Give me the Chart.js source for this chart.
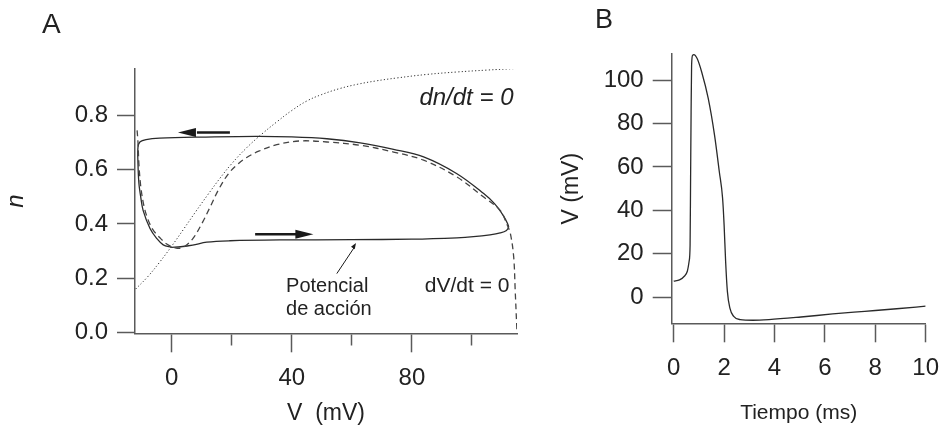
<!DOCTYPE html>
<html>
<head>
<meta charset="utf-8">
<script src="https://cdn.jsdelivr.net/npm/chart.js@4.4.1/dist/chart.umd.min.js"></script>
<style>
  html, body { margin: 0; padding: 0; background: #fff; }
  #wrap { position: relative; width: 951px; height: 425px; }
  #phase { position: absolute; left: 0; top: 0; }
  #spike { position: absolute; left: 540px; top: 0; }
</style>
</head>
<body>
<div id="wrap">
  <canvas id="phase" width="540" height="425"></canvas>
  <canvas id="spike" width="411" height="425"></canvas>
</div>
<script>
// A: phase plane, action potential trajectory (V in mV, n gating variable)
const trajV = [0, 3, 7, 11.7, 19.4, 36, 60, 80, 95, 100.5, 106, 109.4, 111.5, 112.2, 111.9, 110.5, 107.5, 103.9, 95, 83.9, 73.9, 62.8, 51.7, 40, 28, 8.3, -4, -8.5, -10.5, -11.2, -11.2, -10.9, -10.3, -9.5, -7.2, -5, -2.8, 0];
const trajN = [0.314, 0.316, 0.322, 0.333, 0.338, 0.341, 0.342, 0.344, 0.349, 0.353, 0.36, 0.367, 0.376, 0.389, 0.40, 0.43, 0.475, 0.512, 0.585, 0.647, 0.675, 0.699, 0.714, 0.721, 0.723, 0.72, 0.716, 0.711, 0.703, 0.684, 0.62, 0.55, 0.50, 0.45, 0.383, 0.347, 0.323, 0.314];

// dV/dt = 0 nullcline
const vNullV = [-11.5, -11.2, -10.9, -10.3, -9.3, -8, -6.3, -4, -1.5, 1.5, 4, 7, 10, 12.8, 15.5, 18.9, 22.2, 25, 29, 35, 42.8, 51.7, 62.8, 73.9, 83.9, 95, 103.9, 109.4, 111.6, 112.8, 113.9, 114.4, 115];
const vNullN = [0.745, 0.70, 0.62, 0.54, 0.47, 0.42, 0.38, 0.35, 0.325, 0.311, 0.315, 0.345, 0.40, 0.462, 0.524, 0.585, 0.622, 0.645, 0.668, 0.692, 0.706, 0.702, 0.69, 0.665, 0.635, 0.573, 0.499, 0.45, 0.40, 0.364, 0.278, 0.155, 0.0];

// dn/dt = 0 nullcline
const nNullV = [-12, -8, -4, 0, 4, 8, 12, 16, 20, 25, 30, 35, 40, 45, 50, 56, 62, 68, 75, 85, 95, 105, 115];
const nNullN = [0.160, 0.205, 0.259, 0.318, 0.381, 0.445, 0.507, 0.567, 0.622, 0.681, 0.731, 0.776, 0.818, 0.853, 0.877, 0.899, 0.915, 0.927, 0.938, 0.951, 0.960, 0.967, 0.973];

const phaseTicksV = [0, 20, 40, 60, 80, 100];
const phaseTicksN = [0, 0.2, 0.4, 0.6, 0.8];

// B: membrane potential against time
const timeMs = [0, 0.23, 0.42, 0.54, 0.61, 0.65, 0.67, 0.69, 0.71, 0.75, 0.80, 0.93, 1.11, 1.37, 1.62, 1.81, 1.94, 2.00, 2.06, 2.13, 2.23, 2.38, 2.64, 3.14, 3.78, 5.05, 6.31, 7.58, 8.85, 10];
const voltage = [7.3, 7.9, 9.6, 11.9, 16.4, 24, 54.8, 85.4, 107, 111.5, 111.8, 110, 103.8, 91.6, 74.7, 57.8, 45.6, 33.3, 16.5, 2.6, -5.1, -8.9, -10.4, -10.7, -10.4, -9.2, -7.8, -6.6, -5.4, -4.2];

const timeTicks = [0, 2, 4, 6, 8, 10];
const voltTicks = [0, 20, 40, 60, 80, 100];

Chart.defaults.font.family = "'Liberation Sans', Arial, sans-serif";
Chart.defaults.color = '#222';

const pts = (xs, ys) => xs.map((x, i) => ({ x: x, y: ys[i] }));
const fixTicks = list => scale => { scale.ticks = list.map(v => ({ value: v })); };

const AXIS = '#5a5a5a';
const INK = '#1a1a1a';

function arrow(ctx, x0, y0, x1, y1, head, half, width) {
  const a = Math.atan2(y1 - y0, x1 - x0);
  const bx = x1 - head * Math.cos(a), by = y1 - head * Math.sin(a);
  ctx.lineWidth = width;
  ctx.beginPath();
  ctx.moveTo(x0, y0);
  ctx.lineTo(bx + 1, by);
  ctx.stroke();
  ctx.beginPath();
  ctx.moveTo(x1, y1);
  ctx.lineTo(bx - half * Math.sin(a), by + half * Math.cos(a));
  ctx.lineTo(bx + half * Math.sin(a), by - half * Math.cos(a));
  ctx.closePath();
  ctx.fill();
}

// labels and arrows of panel A, placed in data units
const flowArrows = [
  { from: [19.4, 0.737], to: [2.1, 0.737] },
  { from: [27.8, 0.362], to: [47.2, 0.362] }
];
const pointer = { from: [55, 0.217], to: [61.4, 0.33] };

const phaseNotes = {
  id: 'phaseNotes',
  afterDraw(chart) {
    const { ctx, scales: { x, y } } = chart;
    const px = v => x.getPixelForValue(v), py = v => y.getPixelForValue(v);
    ctx.save();
    ctx.strokeStyle = INK;
    ctx.fillStyle = INK;
    flowArrows.forEach(a => arrow(ctx, px(a.from[0]), py(a.from[1]), px(a.to[0]), py(a.to[1]), 18, 4.5, 2.4));
    arrow(ctx, px(pointer.from[0]), py(pointer.from[1]), px(pointer.to[0]), py(pointer.to[1]), 6, 2.2, 1);

    ctx.fillStyle = '#222';
    ctx.textBaseline = 'alphabetic';
    ctx.textAlign = 'left';
    ctx.font = "28px 'Liberation Sans', Arial, sans-serif";
    ctx.fillText('A', 42, 33);

    ctx.font = "italic 24px 'Liberation Sans', Arial, sans-serif";
    ctx.fillText('dn/dt = 0', px(82.5), py(0.839));

    ctx.font = "21px 'Liberation Sans', Arial, sans-serif";
    ctx.fillText('dV/dt = 0', px(84.3), py(0.150));

    ctx.font = "20px 'Liberation Sans', Arial, sans-serif";
    ctx.fillText('Potencial', px(38.1), py(0.150));
    ctx.fillText('de acción', px(38.1), py(0.150) + 23.5);
    ctx.restore();
  }
};

const spikeNotes = {
  id: 'spikeNotes',
  afterDraw(chart) {
    const ctx = chart.ctx;
    ctx.save();
    ctx.fillStyle = '#222';
    ctx.font = "27px 'Liberation Sans', Arial, sans-serif";
    ctx.textBaseline = 'alphabetic';
    ctx.fillText('B', 55, 28);
    ctx.restore();
  }
};

const lineSet = (data, color, width, dash, extra) => Object.assign({
  data: data, showLine: true, borderColor: color, borderWidth: width,
  borderDash: dash, pointRadius: 0, fill: false
}, extra);

new Chart(document.getElementById('phase'), {
  type: 'scatter',
  data: {
    datasets: [
      lineSet(pts(nNullV, nNullN), '#333', 1, [1.2, 2.2], { tension: 0.4 }),
      lineSet(pts(vNullV, vNullN), '#444', 1.3, [6, 4], { tension: 0.35 }),
      lineSet(pts(trajV, trajN), '#2a2a2a', 1.3, [], { tension: 0.35 })
    ]
  },
  options: {
    responsive: false,
    animation: false,
    devicePixelRatio: 1,
    layout: { padding: { left: 0, top: 69, right: 23, bottom: 0 } },
    plugins: { legend: { display: false }, tooltip: { enabled: false } },
    scales: {
      x: {
        type: 'linear', min: -12.2, max: 115,
        afterBuildTicks: fixTicks(phaseTicksV),
        afterFit: s => { s.height = 425 - 333.3; },
        grid: {
          drawOnChartArea: false, tickLength: 19, tickColor: AXIS, tickWidth: 1.5,
          tickBorderDash: c => (c.tick && c.tick.value % 40 !== 0) ? [11, 40] : []
        },
        border: { color: AXIS, width: 1.5 },
        ticks: {
          padding: 12, autoSkip: false, maxRotation: 0, font: { size: 24 },
          callback: v => (v % 40 === 0 ? String(v) : '')
        },
        title: { display: true, text: 'V  (mV)', font: { size: 23, lineHeight: 1 }, padding: { top: 0, bottom: 0 } }
      },
      y: {
        type: 'linear', min: -0.003, max: 0.971,
        afterBuildTicks: fixTicks(phaseTicksN),
        afterFit: s => { s.width = 135; },
        grid: { drawOnChartArea: false, tickLength: 18, tickColor: AXIS, tickWidth: 1.5 },
        border: { color: AXIS, width: 1.5 },
        ticks: { padding: 9, autoSkip: false, font: { size: 24 }, callback: v => v.toFixed(1) },
        title: { display: true, text: 'n', font: { size: 24, style: 'italic', lineHeight: 1 }, padding: { top: 4, bottom: 0 } }
      }
    }
  },
  plugins: [phaseNotes]
});

new Chart(document.getElementById('spike'), {
  type: 'scatter',
  data: {
    datasets: [
      lineSet(pts(timeMs, voltage), '#2a2a2a', 1.3, [], { cubicInterpolationMode: 'monotone' })
    ]
  },
  options: {
    responsive: false,
    animation: false,
    devicePixelRatio: 1,
    layout: { padding: { left: 0, top: 54, right: 15, bottom: 0 } },
    plugins: { legend: { display: false }, tooltip: { enabled: false } },
    scales: {
      x: {
        type: 'linear', min: -0.08, max: 10,
        afterBuildTicks: fixTicks(timeTicks),
        afterFit: s => { s.height = 425 - 323.3; },
        grid: { drawOnChartArea: false, tickLength: 19, tickColor: AXIS, tickWidth: 1.5 },
        border: { color: AXIS, width: 1.5 },
        ticks: { padding: 12, autoSkip: false, maxRotation: 0, font: { size: 24 }, callback: v => String(v) },
        title: { display: true, text: 'Tiempo (ms)', font: { size: 21, lineHeight: 1 }, padding: { top: 0, bottom: 1 } }
      },
      y: {
        type: 'linear', min: -12.1, max: 112.1,
        afterBuildTicks: fixTicks(voltTicks),
        afterFit: s => { s.width = 131.7; },
        grid: { drawOnChartArea: false, tickLength: 19, tickColor: AXIS, tickWidth: 1.5 },
        border: { color: AXIS, width: 1.5 },
        ticks: { padding: 9, autoSkip: false, font: { size: 24 }, callback: v => String(v) },
        title: { display: true, text: 'V (mV)', font: { size: 23, lineHeight: 1 }, padding: { top: 20, bottom: 0 } }
      }
    }
  },
  plugins: [spikeNotes]
});
</script>
</body>
</html>
